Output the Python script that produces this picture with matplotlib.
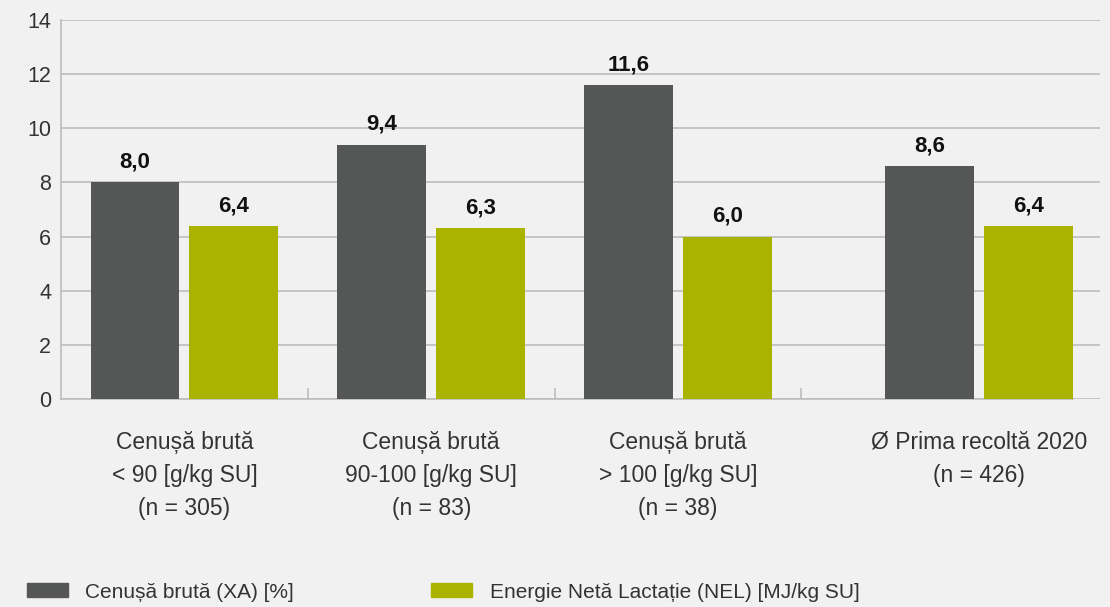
import numpy as np
import matplotlib.pyplot as plt
from matplotlib.patches import Patch

plt.rcParams['font.family'] = ['Liberation Sans', 'DejaVu Sans']

# data
categories = ['Cenușă brută\n< 90 [g/kg SU]\n(n = 305)',
              'Cenușă brută\n90-100 [g/kg SU]\n(n = 83)',
              'Cenușă brută\n> 100 [g/kg SU]\n(n = 38)',
              'Ø Prima recoltă 2020\n(n = 426)']
ash = [8.0, 9.4, 11.6, 8.6]
nel = [6.4, 6.3, 6.0, 6.4]
series_names = ['Cenușă brută (XA) [%]', 'Energie Netă Lactație (NEL) [MJ/kg SU]']

grey = '#555756'
green = '#aab400'
bg = '#f0f1f0'
gridc = '#bdbdbd'

# group centres (last group sits a bit further right in the original)
x = np.array([0, 1, 2, 3.22])
w = 0.36
off = 0.2

fig = plt.figure(figsize=(11.1, 6.07), dpi=100, facecolor=bg)
ax = fig.add_axes([61/1110, 1-399/607, (1100-61)/1110, (399-20)/607])
ax.set_facecolor(bg)

b1 = ax.bar(x - off, ash, w, color=grey, zorder=3)
b2 = ax.bar(x + off, nel, w, color=green, zorder=3)

for bars, vals in [(b1, ash), (b2, nel)]:
    for r, v in zip(bars, vals):
        ax.annotate(f'{v:.1f}'.replace('.', ','), (r.get_x() + r.get_width()/2, v),
                    xytext=(0, 7), textcoords='offset points', ha='center', va='bottom',
                    fontsize=16, fontweight='bold', color='#111111')

ax.set_ylim(0, 14)
ax.set_xlim(-0.5, 3.71)
ax.set_yticks(range(0, 15, 2))
ax.yaxis.grid(True, color=gridc, linewidth=1.2, zorder=0)
ax.tick_params(axis='y', length=0, labelsize=15.5, labelcolor='#333333', pad=7)

ax.set_xticks(x)
ax.set_xticklabels(categories, fontsize=16.5, color='#333333', linespacing=1.55)
ax.tick_params(axis='x', which='major', length=0, pad=23)
ax.set_xticks([0.5, 1.5, 2.5], minor=True)
ax.tick_params(axis='x', which='minor', direction='in', length=8, color=gridc, width=1.2)

for s in ['top', 'right']:
    ax.spines[s].set_visible(False)
for s in ['left', 'bottom']:
    ax.spines[s].set_color(gridc)
    ax.spines[s].set_linewidth(1.2)
ax.spines['bottom'].set_bounds(-0.5, 3.6)

handles = [Patch(color=grey), Patch(color=green)]
fig.legend(handles, series_names, loc='center left', bbox_to_anchor=(27/1110, 1-592/607),
           ncol=2, frameon=False, fontsize=15, handlelength=1.97, handleheight=0.67,
           handletextpad=0.82, columnspacing=6.6, borderpad=0, borderaxespad=0,
           labelcolor='#333333')

fig.savefig('out.png', dpi=100, facecolor=bg)
